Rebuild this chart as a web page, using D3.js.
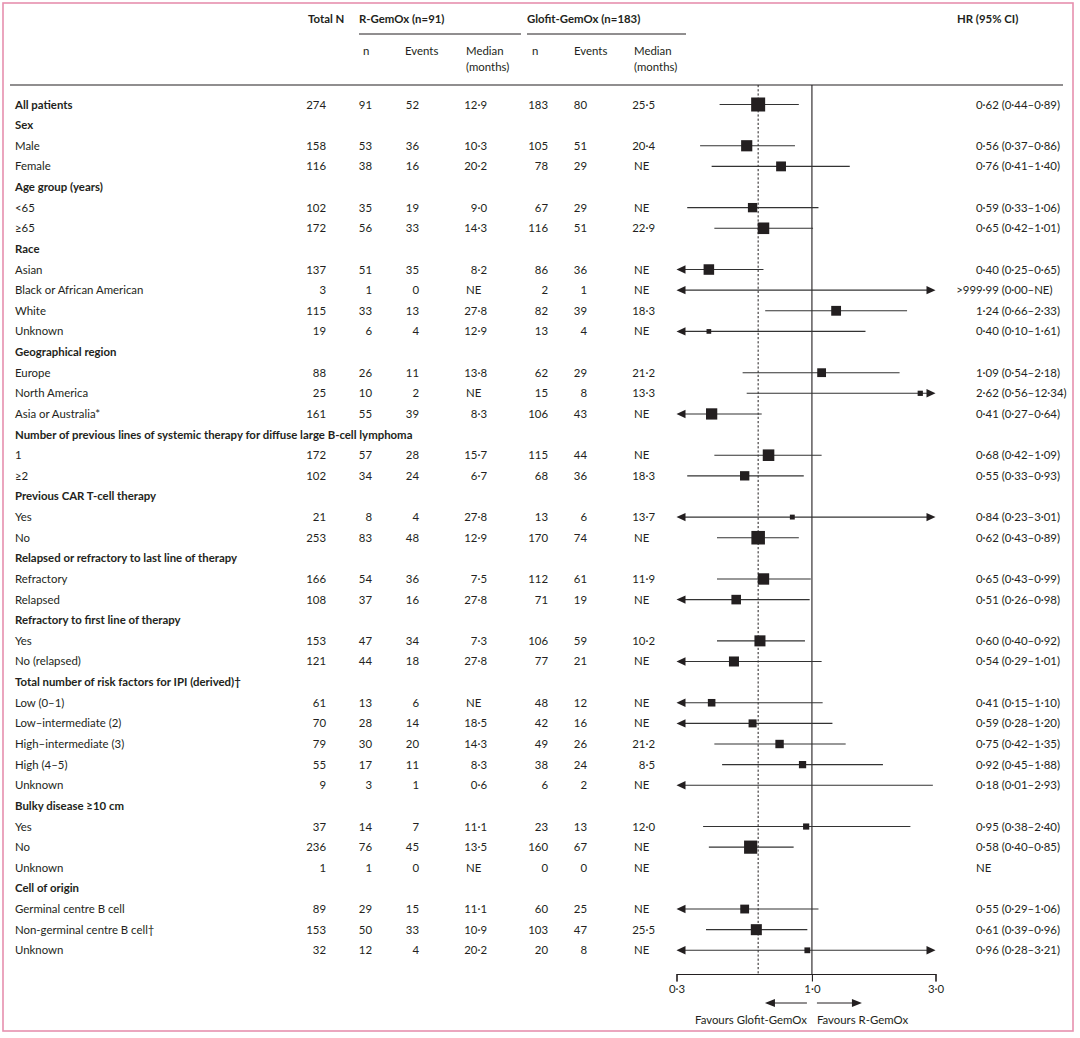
<!DOCTYPE html>
<html><head><meta charset="utf-8">
<script src="https://cdn.jsdelivr.net/npm/d3@7"></script>
<style>
body{margin:0;background:#fff;}
svg text{font-family:"Liberation Sans Narrow","Arial Narrow","Lato",sans-serif;fill:#231f20;font-size:11.4px;}
</style></head><body><svg id="c" width="1080" height="1038"></svg>
<script>
// ---------------- data ----------------
const labels = ["All patients","Sex","Male","Female","Age group (years)","<65","≥65","Race","Asian","Black or African American","White","Unknown","Geographical region","Europe","North America","Asia or Australia*","Number of previous lines of systemic therapy for diffuse large B-cell lymphoma","1","≥2","Previous CAR T-cell therapy","Yes","No","Relapsed or refractory to last line of therapy","Refractory","Relapsed","Refractory to first line of therapy","Yes","No (relapsed)","Total number of risk factors for IPI (derived)†","Low (0–1)","Low–intermediate (2)","High–intermediate (3)","High (4–5)","Unknown","Bulky disease ≥10 cm","Yes","No","Unknown","Cell of origin","Germinal centre B cell","Non-germinal centre B cell†","Unknown"];
const boldRow = [1,1,0,0,1,0,0,1,0,0,0,0,1,0,0,0,1,0,0,1,0,0,1,0,0,1,0,0,1,0,0,0,0,0,1,0,0,0,1,0,0,0];
const totalN  = [274,null,158,116,null,102,172,null,137,3,115,19,null,88,25,161,null,172,102,null,21,253,null,166,108,null,153,121,null,61,70,79,55,9,null,37,236,1,null,89,153,32];
const rN      = [91,null,53,38,null,35,56,null,51,1,33,6,null,26,10,55,null,57,34,null,8,83,null,54,37,null,47,44,null,13,28,30,17,3,null,14,76,1,null,29,50,12];
const rEvents = [52,null,36,16,null,19,33,null,35,0,13,4,null,11,2,39,null,28,24,null,4,48,null,36,16,null,34,18,null,6,14,20,11,1,null,7,45,0,null,15,33,4];
const rMedian = ["12·9",null,"10·3","20·2",null,"9·0","14·3",null,"8·2","NE","27·8","12·9",null,"13·8","NE","8·3",null,"15·7","6·7",null,"27·8","12·9",null,"7·5","27·8",null,"7·3","27·8",null,"NE","18·5","14·3","8·3","0·6",null,"11·1","13·5","NE",null,"11·1","10·9","20·2"];
const gN      = [183,null,105,78,null,67,116,null,86,2,82,13,null,62,15,106,null,115,68,null,13,170,null,112,71,null,106,77,null,48,42,49,38,6,null,23,160,0,null,60,103,20];
const gEvents = [80,null,51,29,null,29,51,null,36,1,39,4,null,29,8,43,null,44,36,null,6,74,null,61,19,null,59,21,null,12,16,26,24,2,null,13,67,0,null,25,47,8];
const gMedian = ["25·5",null,"20·4","NE",null,"NE","22·9",null,"NE","NE","18·3","NE",null,"21·2","13·3","NE",null,"NE","18·3",null,"13·7","NE",null,"11·9","NE",null,"10·2","NE",null,"NE","NE","21·2","8·5","NE",null,"12·0","NE","NE",null,"NE","25·5","NE"];
// plotted marker values
const hrEst   = [0.62,null,0.56,0.76,null,0.59,0.65,null,0.40,999.99,1.24,0.40,null,1.09,2.62,0.41,null,0.68,0.55,null,0.84,0.62,null,0.65,0.51,null,0.63,0.50,null,0.41,0.59,0.75,0.92,0.18,null,0.95,0.58,null,null,0.55,0.61,0.96];
const hrLow   = [0.44,null,0.37,0.41,null,0.33,0.42,null,0.25,0.00,0.66,0.10,null,0.54,0.56,0.27,null,0.42,0.33,null,0.23,0.43,null,0.43,0.26,null,0.43,0.29,null,0.15,0.28,0.42,0.45,0.01,null,0.38,0.40,null,null,0.29,0.39,0.28];
const hrHigh  = [0.89,null,0.86,1.40,null,1.06,1.01,null,0.65,Infinity,2.33,1.61,null,2.18,12.34,0.64,null,1.09,0.93,null,3.01,0.89,null,0.99,0.98,null,0.94,1.09,null,1.10,1.20,1.35,1.88,2.93,null,2.40,0.85,null,null,1.06,0.96,3.21];
const hrText  = ["0·62 (0·44–0·89)",null,"0·56 (0·37–0·86)","0·76 (0·41–1·40)",null,"0·59 (0·33–1·06)","0·65 (0·42–1·01)",null,"0·40 (0·25–0·65)",">999·99 (0·00–NE)","1·24 (0·66–2·33)","0·40 (0·10–1·61)",null,"1·09 (0·54–2·18)","2·62 (0·56–12·34)","0·41 (0·27–0·64)",null,"0·68 (0·42–1·09)","0·55 (0·33–0·93)",null,"0·84 (0·23–3·01)","0·62 (0·43–0·89)",null,"0·65 (0·43–0·99)","0·51 (0·26–0·98)",null,"0·60 (0·40–0·92)","0·54 (0·29–1·01)",null,"0·41 (0·15–1·10)","0·59 (0·28–1·20)","0·75 (0·42–1·35)","0·92 (0·45–1·88)","0·18 (0·01–2·93)",null,"0·95 (0·38–2·40)","0·58 (0·40–0·85)","NE",null,"0·55 (0·29–1·06)","0·61 (0·39–0·96)","0·96 (0·28–3·21)"];
const axisTicks = [0.3, 1, 3];
const axisTickLabels = ["0·3","1·0","3·0"];
const favourLabels = ["Favours Glofit-GemOx","Favours R-GemOx"];
const groupHeaders = ["R-GemOx (n=91)","Glofit-GemOx (n=183)"];

// ---------------- drawing ----------------
const svg = d3.select("#c");
const ink = "#231f20";
const idx = d3.range(labels.length);
const y = d3.scaleLinear().domain([0, labels.length-1]).range([104.5, 950.3]);
const x = d3.scaleLog().domain([0.3, 3]).range([676.5, 935.5]);
const sz = d3.scalePow().exponent(0.41).domain([0, 274]).range([0, 14]);
const base = 4; // baseline offset from row centre

// frame
svg.append("rect").attr("x",3).attr("y",3).attr("width",1070).attr("height",1028)
  .attr("fill","none").attr("stroke","#e690ae").attr("stroke-width",1.6);

// headers
const hdr = svg.append("g");
hdr.append("text").attr("x",308).attr("y",23).attr("font-weight","bold").text("Total N");
hdr.append("text").attr("x",359).attr("y",23).attr("font-weight","bold").text(groupHeaders[0]);
hdr.append("text").attr("x",527).attr("y",23).attr("font-weight","bold").text(groupHeaders[1]);
hdr.append("text").attr("x",957).attr("y",23).attr("font-weight","bold").text("HR (95% CI)");
svg.append("line").attr("x1",359).attr("x2",521).attr("y1",34).attr("y2",34).attr("stroke",ink);
svg.append("line").attr("x1",527).attr("x2",686).attr("y1",34).attr("y2",34).attr("stroke",ink);
const sub = [[363,"n"],[405,"Events"],[466,"Median"],[532,"n"],[574,"Events"],[634,"Median"]];
sub.forEach(([sx,t])=>svg.append("text").attr("x",sx).attr("y",54.5).text(t));
[466,634].forEach(sx=>svg.append("text").attr("x",sx).attr("y",71).text("(months)"));
svg.append("line").attr("x1",10).attr("x2",1063).attr("y1",85).attr("y2",85).attr("stroke",ink).attr("stroke-width",1.1);

// table body
const rows = svg.append("g").selectAll("g").data(idx).join("g")
  .attr("transform", i => `translate(0,${y(i)+base})`);
rows.append("text").attr("x",15).attr("font-weight", i => boldRow[i] ? "bold" : null).text(i => labels[i]);
function rightCol(arr, xr){
  rows.filter(i => arr[i] !== null).append("text").attr("x",xr).attr("text-anchor","end").text(i => arr[i]);
}
rightCol(totalN, 326); rightCol(rN, 372); rightCol(rEvents, 419); rightCol(gN, 548); rightCol(gEvents, 587);
function medCol(arr, xl, xr){
  rows.filter(i => arr[i] !== null).append("text")
    .attr("x", i => arr[i] === "NE" ? xl : xr)
    .attr("text-anchor", i => arr[i] === "NE" ? "start" : "end")
    .text(i => arr[i]);
}
medCol(rMedian, 466, 487); medCol(gMedian, 634, 655);

// HR text, aligned on the opening bracket
const probe = svg.append("text").text("0·62");
const estW = probe.node().getComputedTextLength();
probe.remove();
const hrLeft = 976, estEnd = hrLeft + estW;
rows.filter(i => hrText[i] !== null).each(function(i){
  const g = d3.select(this), t = hrText[i];
  const k = t.indexOf(" (");
  if (k < 0) { g.append("text").attr("x",hrLeft).text(t); return; }
  g.append("text").attr("x",estEnd).attr("text-anchor","end").text(t.slice(0,k));
  g.append("text").attr("x",estEnd).attr("xml:space","preserve").style("white-space","pre").text(t.slice(k));
});

// reference lines
const yTop = 85, yAxis = 974;
svg.append("line").attr("x1",x(1)).attr("x2",x(1)).attr("y1",yTop).attr("y2",yAxis).attr("stroke",ink).attr("stroke-width",1.1);
svg.append("line").attr("x1",x(hrEst[0])).attr("x2",x(hrEst[0])).attr("y1",yTop).attr("y2",yAxis)
  .attr("stroke",ink).attr("stroke-width",1).attr("stroke-dasharray","2.2,2");

// CIs
const [d0, d1] = x.domain();
const aL = 9, aH = 4.2;
const plot = svg.append("g");
idx.filter(i => hrLow[i] !== null).forEach(i => {
  const cy = y(i);
  const leftA = hrLow[i] < d0, rightA = hrHigh[i] > d1;
  const xl = leftA ? x(d0) + aL - 1 : x(hrLow[i]);
  const xr = rightA ? x(d1) - aL + 1 : x(hrHigh[i]);
  plot.append("line").attr("x1",xl).attr("x2",xr).attr("y1",cy).attr("y2",cy).attr("stroke","#333").attr("stroke-width",1.1);
  if (leftA) { const t = x(d0); plot.append("path").attr("d",`M${t},${cy}L${t+aL},${cy-aH}L${t+aL},${cy+aH}Z`).attr("fill",ink); }
  if (rightA) { const t = x(d1); plot.append("path").attr("d",`M${t},${cy}L${t-aL},${cy-aH}L${t-aL},${cy+aH}Z`).attr("fill",ink); }
  const e = hrEst[i];
  if (e >= d0 && e <= d1) {
    const s = sz(totalN[i]);
    plot.append("rect").attr("x",x(e)-s/2).attr("y",cy-s/2).attr("width",s).attr("height",s).attr("fill",ink);
  }
});

// axis
const ax = svg.append("g").attr("transform",`translate(0,${yAxis})`)
  .call(d3.axisBottom(x).tickValues(axisTicks).tickFormat((d,k)=>axisTickLabels[k]).tickSize(7.5).tickSizeOuter(7.5).tickPadding(3));
ax.selectAll("path,line").attr("stroke",ink).attr("stroke-width",1.1);
ax.selectAll("text").attr("fill",ink).attr("font-size",11.4).attr("font-family",null);

// favours arrows
const fy = 1003, x1 = x(1);
svg.append("line").attr("x1",x1-5).attr("x2",x1-38).attr("y1",fy).attr("y2",fy).attr("stroke",ink);
svg.append("path").attr("d",`M${x1-47},${fy}L${x1-37},${fy-4}L${x1-37},${fy+4}Z`).attr("fill",ink);
svg.append("line").attr("x1",x1+5).attr("x2",x1+41).attr("y1",fy).attr("y2",fy).attr("stroke",ink);
svg.append("path").attr("d",`M${x1+50},${fy}L${x1+40},${fy-4}L${x1+40},${fy+4}Z`).attr("fill",ink);
svg.append("text").attr("x",x1-5).attr("y",1024).attr("text-anchor","end").text(favourLabels[0]);
svg.append("text").attr("x",x1+5).attr("y",1024).text(favourLabels[1]);
</script></body></html>
